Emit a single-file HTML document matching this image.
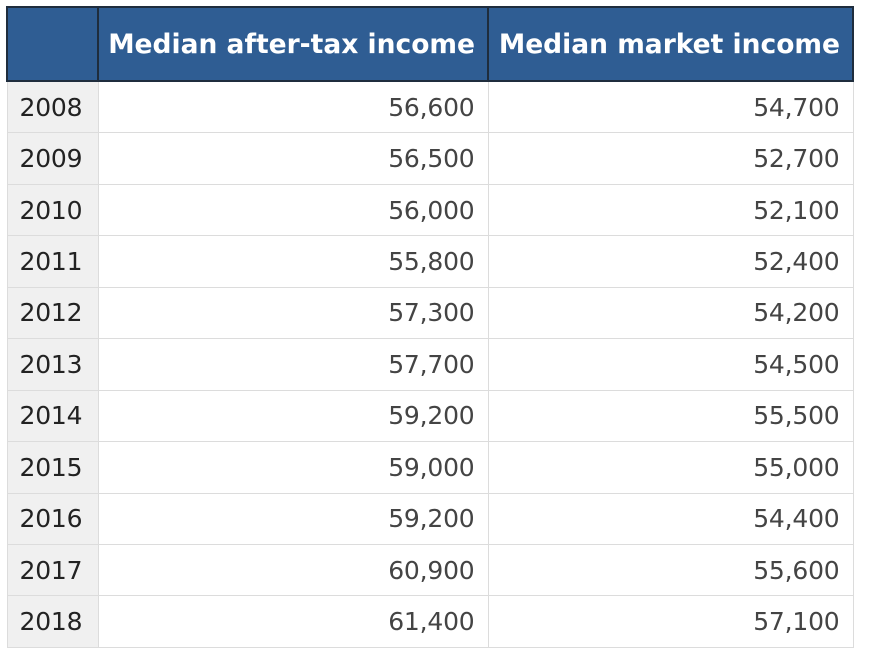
<!DOCTYPE html>
<html><head><style>
body{margin:0;width:870px;height:656px;background:#fff;font-family:"DejaVu Sans","Liberation Sans",sans-serif;overflow:hidden}
table{position:absolute;left:6px;top:6px;border-collapse:collapse;table-layout:fixed}
th{background:#2f5d93;color:#fff;font-weight:bold;font-size:26.5px;height:72px;border:2px solid #1f2d3d;padding:0 12px 0 0;text-align:right;white-space:nowrap;letter-spacing:0}
td{height:50.45px;border:1px solid #dcdcdc;font-size:25px;color:#444;text-align:right;padding:0 13px 0 0;letter-spacing:-0.2px}
td.y{background:#f0f0f0;color:#222;text-align:left;padding:0 0 0 12px}
</style></head><body>
<table>
<colgroup><col style="width:91px"><col style="width:390px"><col style="width:365px"></colgroup>
<thead><tr><th></th><th>Median after-tax income</th><th>Median market income</th></tr></thead>
<tbody id="tb"></tbody>
</table>
<script>
const years=[2008,2009,2010,2011,2012,2013,2014,2015,2016,2017,2018];
const afterTax=[56600,56500,56000,55800,57300,57700,59200,59000,59200,60900,61400];
const market=[54700,52700,52100,52400,54200,54500,55500,55000,54400,55600,57100];
const tb=document.getElementById('tb');
years.forEach((y,i)=>{
const tr=document.createElement('tr');


const a=document.createElement('td');a.className='y';a.textContent=y;


const b=document.createElement('td');b.textContent=afterTax[i].toLocaleString('en-US');


const c=document.createElement('td');c.textContent=market[i].toLocaleString('en-US');


tr.append(a,b,c);tb.appendChild(tr);
});
</script>
</body></html>
